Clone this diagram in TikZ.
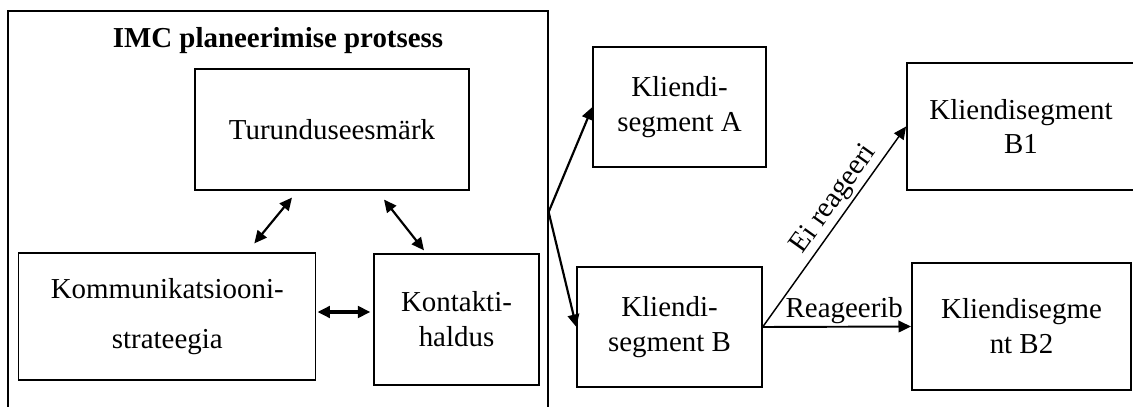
\documentclass[tikz,border=0pt]{standalone}
\usepackage{fontspec}
\setmainfont{Liberation Serif}
\usepackage{tikz}
\usetikzlibrary{arrows.meta,calc}

\begin{document}
\begin{tikzpicture}[x=0.415pt, y=-0.415pt, >={Triangle[length=5.2pt,width=4.8pt]},
    font=\fontsize{12}{14.5}\selectfont,
    kast/.style={draw, line width=0.5pt, align=center, inner sep=0pt},
    paks/.style={kast, line width=0.8pt}]

\useasboundingbox (0,0) rectangle (1133,407);

% Raam
\node[kast, minimum width=224.1pt, minimum height=166.8pt] (imc) at (278,212) {};
\node[font=\fontsize{12}{14.5}\selectfont\bfseries] (pealkiri) at (278,41) {IMC planeerimise protsess};

% Kastid sees
\node[kast, minimum width=113.7pt, minimum height=50.2pt] (turund) at (332,129.5) {Turunduseesmärk};
\node[kast, minimum width=123.3pt, minimum height=52.7pt] (komm) at (167.3,316.5) {Kommunikatsiooni-\\[6.5pt]strateegia};
\node[kast, minimum width=68.5pt, minimum height=54.4pt] (kontakti) at (456.5,319.5) {Kontakti-\\haldus};

% Kliendisegmendid
\node[kast, minimum width=71.8pt, minimum height=49.8pt] (segA) at (679.5,107) {Kliendi-\\segment A};
\node[kast, minimum width=76.8pt, minimum height=49.8pt] (segB) at (669.5,327) {Kliendi-\\segment B};
\node[paks, minimum width=94.6pt, minimum height=52.7pt] (segBone) at (1021,126.5) {Kliendisegment\\B1};
\node[paks, minimum width=90.9pt, minimum height=52.7pt] (segBtwo) at (1021.5,326.5) {Kliendisegme\\nt B2};

% Nooled sees
\draw[<->, line width=0.9pt] ($(turund.south)+(-40,7)$) -- ($(komm.north)+(87,-9)$);
\draw[<->, line width=0.9pt] ($(turund.south)+(52,9)$) -- ($(kontakti.north)+(-32.5,-3)$);
\draw[<->, line width=1.3pt] ($(komm.east)+(1,-4.5)$) -- ($(kontakti.west)+(-3,-7.5)$);

% Nooled valja
\draw[->, line width=0.9pt] (imc.east) -- (segA.west);
\draw[->, line width=0.9pt] (imc.east) -- (segB.west);
\draw[->, line width=0.6pt] (segB.east) -- (segBone.west)
    node[pos=0.59, sloped, above, inner sep=1pt] {Ei reageeri};
\draw[->, line width=0.8pt] (segB.east) -- (segBtwo.west)
    node[pos=0.55, above, inner sep=1pt] {Reageerib};

\end{tikzpicture}
\end{document}
